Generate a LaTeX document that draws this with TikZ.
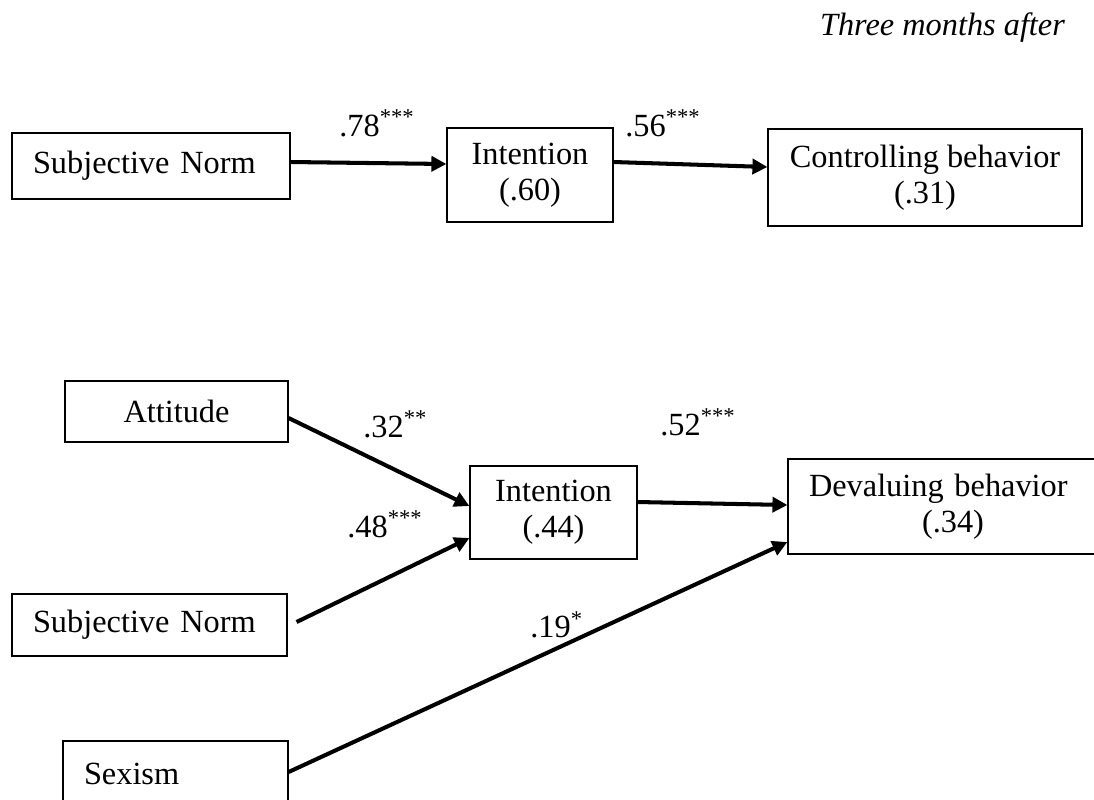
\documentclass[tikz,border=0pt]{standalone}
\usepackage{fontspec}
\setmainfont{Liberation Serif}
\usepackage{tikz}
\usetikzlibrary{arrows.meta,shapes}
\tikzstyle{box}=[rectangle, draw
,line width=0.7pt
,inner sep=0pt
,align=center
]
\tikzstyle{lbox}=[box, align=left, inner xsep=0.42cm]
\tikzstyle{coef}=[anchor=base west, inner sep=0pt]
\tikzstyle{edge} = [draw, line width=2.3pt, -{Triangle[length=0.3cm,width=0.3cm]}]

\begin{document}
\begin{tikzpicture}[x=0.02cm, y=-0.02cm, font=\fontsize{18.4}{20.5}\selectfont]
    \clip (0,0) rectangle (1094,799);
    \node[anchor=base] (title) at (942.5,35) {\itshape Three months after};
    % Upper model: controlling behavior
    \node[lbox, text width=4.72cm, minimum height=1.32cm] (sn1) at (151,166) {Subjective Norm};
    \node[box, minimum width=3.32cm, minimum height=1.88cm] (int1) at (530,175) {Intention\\(.60)};
    \node[box, minimum width=6.28cm, minimum height=1.94cm] (cb) at (925,177.5) {Controlling behavior\\(.31)};
    % Lower model: devaluing behavior
    \node[box, minimum width=4.46cm, minimum height=1.22cm] (att) at (176.5,411.5) {Attitude};
    \node[lbox, text width=4.66cm, minimum height=1.24cm] (sn2) at (149.5,625) {Subjective Norm};
    \node[lbox, text width=3.66cm, minimum height=1.32cm] (sex) at (175.5,774) {Sexism};
    \node[box, minimum width=3.34cm, minimum height=1.86cm] (int2) at (553.5,512.5) {Intention\\(.44)};
    \node[lbox, text width=5.8cm, minimum height=1.9cm] (db) at (954,506.5) {Devaluing behavior\\\hspace*{2.26cm}(.34)};
    % Path coefficients
    \foreach \pos/\name/\val/\sig in {{(339,136)/c78/.78/***}, {(625,136)/c56/.56/***},
        {(363,437)/c32/.32/**}, {(347,537)/c48/.48/***}, {(660,435)/c52/.52/***}, {(530,637)/c19/.19/*}}
        \node[coef] (\name) at \pos {\val\textsuperscript{\sig}};
    % Paths
    \path[edge] ([yshift=0.08cm]sn1.east) -- ([yshift=0.22cm]int1.west);
    \path[edge] ([yshift=0.26cm]int1.east) -- ([yshift=0.21cm]cb.west);
    \path[edge] ([yshift=-0.13cm]att.east) -- ([yshift=0.13cm]int2.west);
    \path[edge] ([xshift=0.18cm,yshift=0.06cm]sn2.east) -- ([yshift=-0.51cm]int2.west);
    \path[edge] ([yshift=0.21cm]int2.east) -- ([yshift=0.03cm]db.west);
    \path[edge] ([yshift=0.04cm]sex.east) -- ([yshift=-0.71cm]db.west);
\end{tikzpicture}
\end{document}
